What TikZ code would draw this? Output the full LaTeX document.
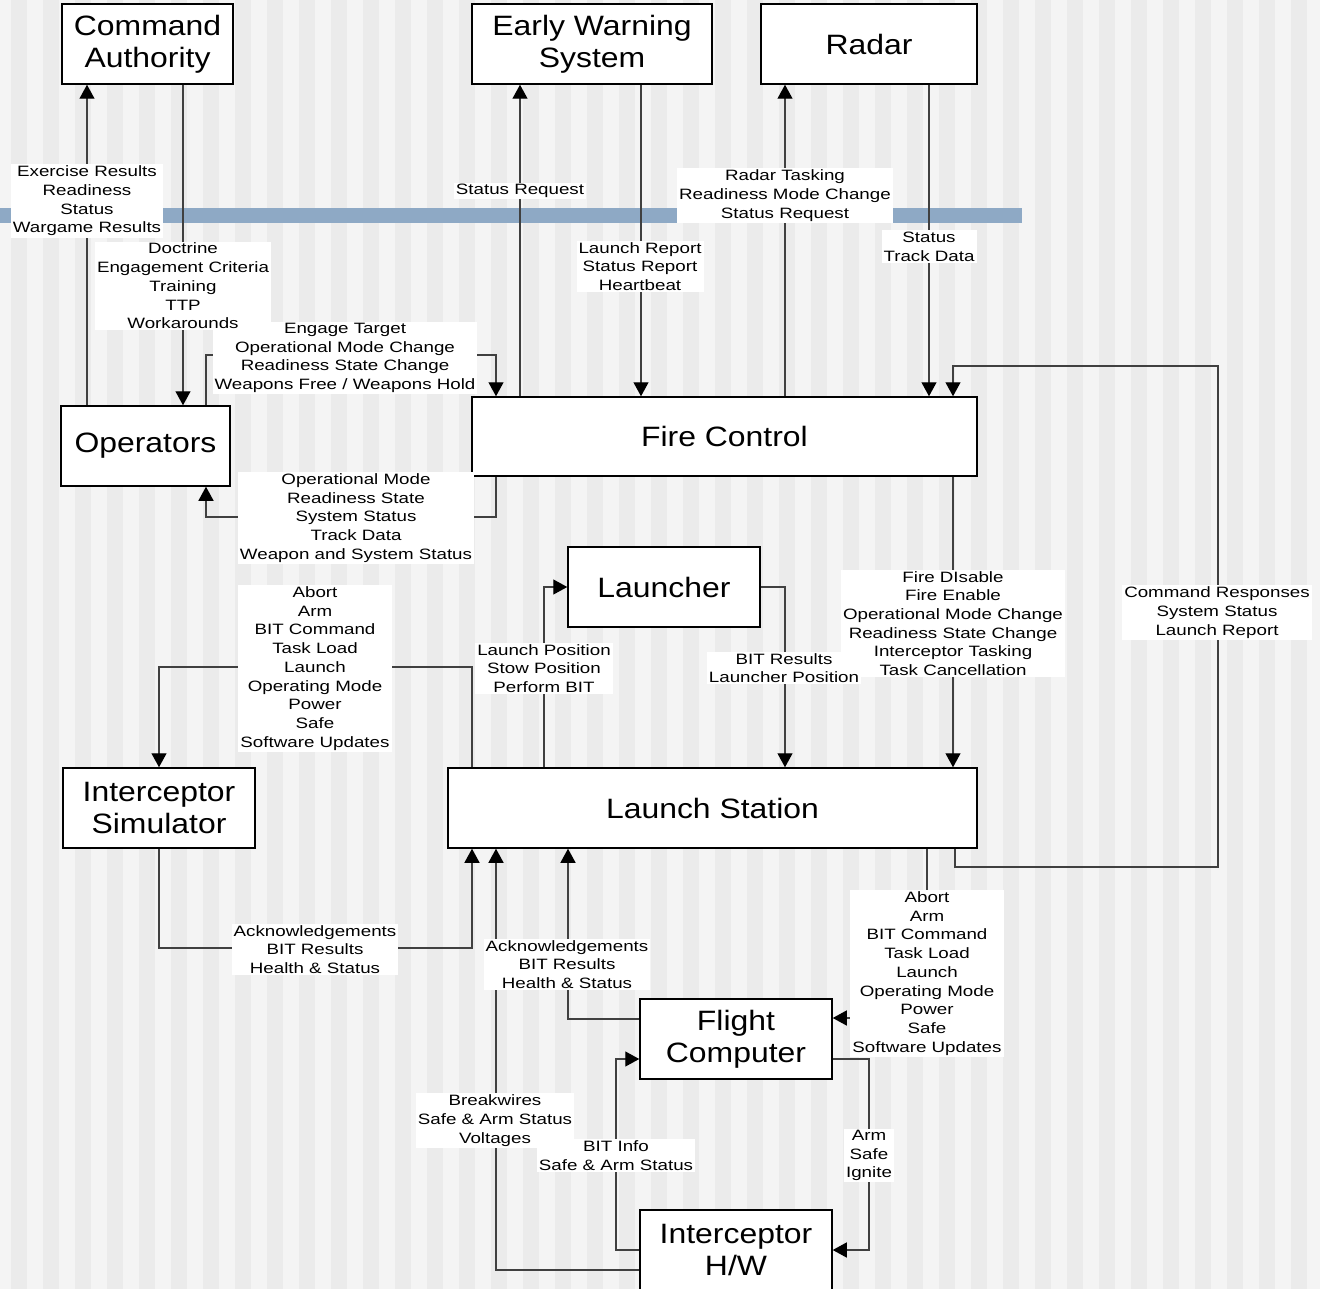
\documentclass[tikz,border=0pt]{standalone}
\usepackage{fontspec}
\setmainfont{Liberation Sans}
\newfontfamily\lblfont{Liberation Sans}[FakeStretch=1.25]
\newfontfamily\boxfont{Liberation Sans}[FakeStretch=1.14]
\usetikzlibrary{arrows.meta, positioning}
\definecolor{stripeA}{HTML}{F4F4F4}
\definecolor{stripeB}{HTML}{EBEBEB}
\definecolor{bandblue}{HTML}{8EA9C5}
\definecolor{wire}{HTML}{404040}

\begin{document}
\begin{tikzpicture}[
			x=1pt, y=-1pt,
			box/.style={draw, line width=1.5pt, fill=white, align=center, inner sep=0pt,
				font=\boxfont\fontsize{28}{32}\selectfont, minimum width=192pt, minimum height=80pt},
			lbl/.style={fill=white, align=center, inner xsep=2pt, inner ysep=1.5pt,
				font=\lblfont\fontsize{15}{18.7}\selectfont},
			arrow/.style={-{Triangle[length=14pt, width=15pt, color=black]}, draw=wire, line width=1.3pt}
		]
		\useasboundingbox (0,0) rectangle (1320,1289);
		% background stripes and band
		\fill[stripeA] (0,0) rectangle (1320,1289);
		\foreach \k in {0,...,41} {
			\fill[stripeB] (11+32*\k,0) rectangle (27+32*\k,1289);
		}
		\fill[bandblue] (0,208) rectangle (1022,223);

		% systems
		\node[box, minimum width=171pt] (ca) at (147.5,44) {Command\\Authority};
		\node[box, minimum width=240pt] (ews) at (592,44) {Early Warning\\System};
		\node[box, minimum width=216pt] (radar) at (869,44) {Radar};
		\node[box, minimum width=169pt] (ops) at (145.5,446) {Operators};
		\node[box, minimum width=505pt, minimum height=79pt] (fc) at (724.5,436.5) {Fire Control};
		\node[box] (launcher) at (664,587) {Launcher};
		\node[box] (isim) at (159,808) {Interceptor\\Simulator};
		\node[box, minimum width=529pt] (ls) at (712.5,808) {Launch Station};
		\node[box] (fcomp) at (736,1039) {Flight\\Computer};
		\node[box] (ihw) at (736,1250) {Interceptor\\H/W};

		% flows
		\draw[arrow] (ops.north -| 87,0) -- (ca.south -| 87,0);
		\draw[arrow] (ca.south -| 183,0) -- (ops.north -| 183,0);
		\draw[arrow] (ops.north -| 206,0) |- (496,355) -- (fc.north -| 496,0);
		\draw[arrow] (fc.south -| 496,0) |- (206,517) -- (ops.south -| 206,0);
		\draw[arrow] (fc.north -| 520,0) -- (ews.south -| 520,0);
		\draw[arrow] (ews.south -| 641,0) -- (fc.north -| 641,0);
		\draw[arrow] (fc.north -| 785,0) -- (radar.south -| 785,0);
		\draw[arrow] (radar.south -| 929,0) -- (fc.north -| 929,0);
		\draw[arrow] (ls.south -| 955,0) |- (1218,867) |- (953,366) -- (fc.north -| 953,0);
		\draw[arrow] (fc.south -| 953,0) -- (ls.north -| 953,0);
		\draw[arrow] (ls.north -| 544,0) |- (launcher.west);
		\draw[arrow] (launcher.east) -| (ls.north -| 785,0);
		\draw[arrow] (ls.north -| 472,0) |- (159,667) -- (isim.north);
		\draw[arrow] (isim.south) |- (472,948) -- (ls.south -| 472,0);
		\draw[arrow] (ihw.west |- 0,1270) -| (ls.south -| 496,0);
		\draw[arrow] (fcomp.west |- 0,1019) -| (ls.south -| 568,0);
		\draw[arrow] (ls.south -| 927,0) |- (fcomp.east |- 0,1018);
		\draw[arrow] (ihw.west |- 0,1250) -| (616,1059) -- (fcomp.west |- 0,1059);
		\draw[arrow] (fcomp.east |- 0,1059) -| (869,1250) -- (ihw.east |- 0,1250);

		% flow labels
		\node[lbl] (exres) at (87,201) {Exercise Results\\Readiness\\Status\\Wargame Results};
		\node[lbl] (engage) at (345,358) {Engage Target\\Operational Mode Change\\Readiness State Change\\Weapons Free / Weapons Hold};
		\node[lbl] (doctr) at (183,286) {Doctrine\\Engagement Criteria\\Training\\TTP\\Workarounds};
		\node[lbl] (opmode) at (356,518) {Operational Mode\\Readiness State\\System Status\\Track Data\\Weapon and System Status};
		\node[lbl] (statreq) at (520,191) {Status Request};
		\node[lbl] (lreport) at (640,266.5) {Launch Report\\Status Report\\Heartbeat};
		\node[lbl] (rtask) at (785,195.5) {Radar Tasking\\Readiness Mode Change\\Status Request};
		\node[lbl] (track) at (929,246.5) {Status\\Track Data};
		\node[lbl] (cmdresp) at (1217,612.5) {Command Responses\\System Status\\Launch Report};
		\node[lbl] (fire) at (953,623.5) {Fire DIsable\\Fire Enable\\Operational Mode Change\\Readiness State Change\\Interceptor Tasking\\Task Cancellation};
		\node[lbl] (lpos) at (544,668.5) {Launch Position\\Stow Position\\Perform BIT};
		\node[lbl] (bitres) at (784,668) {BIT Results\\Launcher Position};
		\node[lbl] (abortA) at (315,668.5) {Abort\\Arm\\BIT Command\\Task Load\\Launch\\Operating Mode\\Power\\Safe\\Software Updates};
		\node[lbl] (ackA) at (315,949.5) {Acknowledgements\\BIT Results\\Health \& Status};
		\node[lbl] (breakw) at (495,1120.5) {Breakwires\\Safe \& Arm Status\\Voltages};
		\node[lbl] (ackB) at (567,964.5) {Acknowledgements\\BIT Results\\Health \& Status};
		\node[lbl] (abortB) at (927,973.5) {Abort\\Arm\\BIT Command\\Task Load\\Launch\\Operating Mode\\Power\\Safe\\Software Updates};
		\node[lbl] (bitinfo) at (616,1155.5) {BIT Info\\Safe \& Arm Status};
		\node[lbl] (arm) at (869,1155.5) {Arm\\Safe\\Ignite};
	\end{tikzpicture}
\end{document}
